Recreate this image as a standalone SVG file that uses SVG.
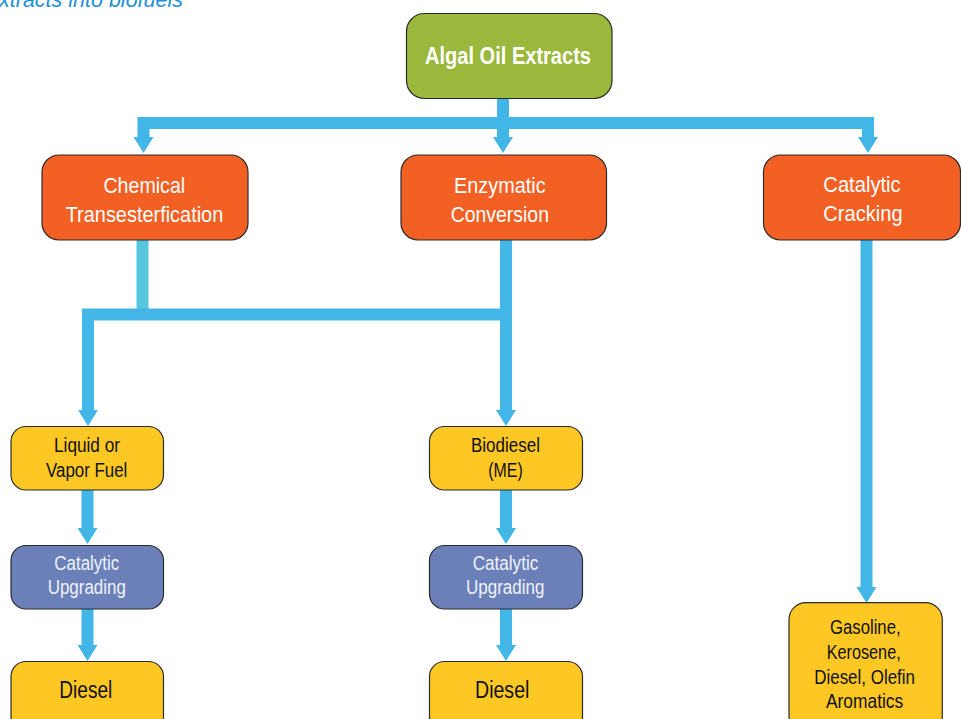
<svg xmlns="http://www.w3.org/2000/svg" width="961" height="719" viewBox="0 0 961 719">
<style>
.box{stroke:#2b2b2b;stroke-width:1.2}
.green{fill:#99b83c}
.orange{fill:#f26024}
.yellow{fill:#fdc724}
.purple{fill:#6b80b8}
.t{font-family:"Liberation Sans Narrow","Liberation Sans",Arial,sans-serif;text-anchor:middle}
.tw{fill:#ffffff;font-size:22px}
.tb{fill:#111111;font-size:20px}
.tp{fill:#eef2fa;font-size:20px}
.conn{fill:none;stroke:#42b6e7;stroke-width:12;stroke-linejoin:miter;stroke-linecap:butt}
.light{stroke:#58c6e0}
.title{font-family:"Liberation Sans",Arial,sans-serif;font-style:italic;font-size:22px;fill:#1f8fd6}
</style>
<defs>
<marker id="ah" markerUnits="userSpaceOnUse" markerWidth="16" markerHeight="20" viewBox="0 0 16 20" refX="0" refY="10" orient="auto-start-reverse">
<path d="M0,0 L16,10 L0,20 Z" fill="#42b6e7"/>
</marker>
</defs>

<text class="title" x="-1" y="6.5" textLength="184" lengthAdjust="spacingAndGlyphs">xtracts into biofuels</text>

<g id="connectors">
<path class="conn" d="M503,98 V137" marker-end="url(#ah)"/>
<path class="conn" d="M143.5,137 V123 H868 V137" marker-start="url(#ah)" marker-end="url(#ah)"/>
<path class="conn light" d="M142.5,240 V309"/>
<path class="conn" d="M88,410 V314.5 H506" marker-start="url(#ah)"/>
<path class="conn" d="M506,240 V410" marker-end="url(#ah)"/>
<path class="conn" d="M866.5,240 V587" marker-end="url(#ah)"/>
<path class="conn" d="M87.5,490 V528" marker-end="url(#ah)"/>
<path class="conn" d="M87.5,609 V645" marker-end="url(#ah)"/>
<path class="conn" d="M506,490 V528" marker-end="url(#ah)"/>
<path class="conn" d="M506,609 V645" marker-end="url(#ah)"/>
</g>

<g id="algal">
<rect class="box green" x="406.5" y="13.5" width="205.5" height="85" rx="18"/>
<text class="t" x="508" y="64" fill="#ffffff" font-size="23.5" font-weight="bold" textLength="166" lengthAdjust="spacingAndGlyphs">Algal Oil Extracts</text>
</g>

<g id="chemical">
<rect class="box orange" x="42" y="155" width="206" height="85" rx="17"/>
<text class="t tw" x="144.3" y="193.3" textLength="81.7" lengthAdjust="spacingAndGlyphs">Chemical</text>
<text class="t tw" x="144.5" y="222.3" textLength="157.6" lengthAdjust="spacingAndGlyphs">Transesterfication</text>
</g>

<g id="enzymatic">
<rect class="box orange" x="401" y="155" width="205.5" height="85" rx="17"/>
<text class="t tw" x="499.8" y="193.3" textLength="91.7" lengthAdjust="spacingAndGlyphs">Enzymatic</text>
<text class="t tw" x="499.8" y="222.3" textLength="98.3" lengthAdjust="spacingAndGlyphs">Conversion</text>
</g>

<g id="cracking">
<rect class="box orange" x="763.5" y="155" width="197" height="85" rx="17"/>
<text class="t tw" x="862" y="191.8" textLength="77.3" lengthAdjust="spacingAndGlyphs">Catalytic</text>
<text class="t tw" x="863" y="220.8" textLength="79.3" lengthAdjust="spacingAndGlyphs">Cracking</text>
</g>

<g id="liquid">
<rect class="box yellow" x="11" y="426.5" width="152.5" height="63.5" rx="15"/>
<text class="t tb" x="87" y="452.3" textLength="66" lengthAdjust="spacingAndGlyphs">Liquid or</text>
<text class="t tb" x="86.7" y="476.7" textLength="81.3" lengthAdjust="spacingAndGlyphs">Vapor Fuel</text>
</g>

<g id="upgrading-left">
<rect class="box purple" x="11" y="545.5" width="152.5" height="63.5" rx="15"/>
<text class="t tp" x="86.8" y="570" textLength="65" lengthAdjust="spacingAndGlyphs">Catalytic</text>
<text class="t tp" x="86.8" y="594.3" textLength="78.3" lengthAdjust="spacingAndGlyphs">Upgrading</text>
</g>

<g id="diesel-left">
<rect class="box yellow" x="11" y="661.5" width="152.5" height="72" rx="15"/>
<text class="t" x="85.8" y="698.3" fill="#111111" font-size="23" textLength="53" lengthAdjust="spacingAndGlyphs">Diesel</text>
</g>

<g id="biodiesel">
<rect class="box yellow" x="429.5" y="426.5" width="153" height="63.5" rx="15"/>
<text class="t tb" x="505.5" y="451.7" textLength="69" lengthAdjust="spacingAndGlyphs">Biodiesel</text>
<text class="t tb" x="505.5" y="476.5" textLength="34.4" lengthAdjust="spacingAndGlyphs">(ME)</text>
</g>

<g id="upgrading-middle">
<rect class="box purple" x="429.5" y="545.5" width="153" height="63.5" rx="15"/>
<text class="t tp" x="505.5" y="570" textLength="65.6" lengthAdjust="spacingAndGlyphs">Catalytic</text>
<text class="t tp" x="505.2" y="594.3" textLength="78.3" lengthAdjust="spacingAndGlyphs">Upgrading</text>
</g>

<g id="diesel-middle">
<rect class="box yellow" x="429.5" y="661.5" width="153" height="72" rx="15"/>
<text class="t" x="502.2" y="698.3" fill="#111111" font-size="23" textLength="54.3" lengthAdjust="spacingAndGlyphs">Diesel</text>
</g>

<g id="products">
<rect class="box yellow" x="789" y="602.7" width="153.3" height="130" rx="17"/>
<text class="t tb" x="865.3" y="634" textLength="70.7" lengthAdjust="spacingAndGlyphs">Gasoline,</text>
<text class="t tb" x="863.7" y="659" textLength="74" lengthAdjust="spacingAndGlyphs">Kerosene,</text>
<text class="t tb" x="864.6" y="684" textLength="100.7" lengthAdjust="spacingAndGlyphs">Diesel, Olefin</text>
<text class="t tb" x="864.6" y="708" textLength="77.3" lengthAdjust="spacingAndGlyphs">Aromatics</text>
</g>
</svg>
